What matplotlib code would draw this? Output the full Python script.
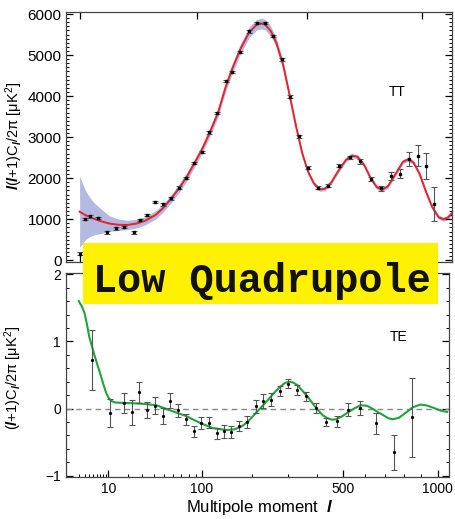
import numpy as np
import matplotlib.pyplot as plt
from matplotlib.patches import Rectangle
from matplotlib.ticker import MultipleLocator, FixedLocator, NullFormatter

plt.rcParams['font.family'] = ['Liberation Sans', 'DejaVu Sans']
plt.rcParams['mathtext.fontset'] = 'custom'
plt.rcParams['mathtext.rm'] = 'Liberation Sans'
plt.rcParams['mathtext.it'] = 'Liberation Sans:italic:bold'
plt.rcParams['mathtext.bf'] = 'Liberation Sans:bold'

# TT model curve
tt_l = [2, 3, 4, 5, 7, 10, 14, 19, 25, 31, 40, 47, 55, 65, 75, 85, 97, 110, 125, 140,
        153, 170, 190, 208, 220, 230, 245, 260, 280, 300, 320, 340, 360, 380, 400, 420,
        445, 475, 505, 530, 555, 585, 615, 645, 670, 700, 740, 780, 810, 840, 875, 910,
        950, 990, 1020, 1050, 1085]
tt_model = [1183, 1100, 1050, 1010, 950, 895, 865, 860, 895, 960, 1100, 1260, 1470, 1740,
            2020, 2330, 2680, 3100, 3600, 4250, 4680, 5150, 5560, 5740, 5770, 5740, 5580,
            5300, 4750, 4000, 3250, 2600, 2150, 1870, 1730, 1740, 1900, 2200, 2450, 2550,
            2520, 2320, 2000, 1780, 1720, 1800, 2100, 2400, 2460, 2380, 2100, 1700, 1300,
            1050, 1000, 1040, 1180]
# half width of the cosmic variance band, same l grid as the curve
band_hw = [870, 600, 470, 390, 300, 190, 140, 115, 105, 100, 100, 100, 100, 100,
           100, 100, 100, 100, 110, 110, 120, 120, 130, 130, 130, 130, 120,
           110, 100, 80, 50, 50, 50, 50, 50, 50, 50, 50, 50, 50,
           50, 50, 50, 50, 50, 50, 50, 50, 50, 50, 50, 50, 50,
           50, 50, 50, 50]

# TT data points
tt_pts_l = [2, 3, 4, 6, 9, 13, 17, 23, 27, 33, 40, 47, 56, 65, 75, 86, 97, 109, 124, 140,
            153, 170, 189, 208, 229, 252, 276, 301, 328, 358, 394, 431, 475, 522, 568, 617,
            667, 717, 766, 813, 864, 912, 962]
tt_pts = [160, 1004, 1070, 1030, 680, 777, 805, 680, 978, 1100, 1420, 1360, 1510, 1768,
          2000, 2367, 2636, 3116, 3592, 4367, 4587, 5077, 5576, 5780, 5780, 5470, 4897,
          3985, 3020, 2260, 1770, 1819, 2302, 2505, 2407, 1976, 1756, 2057, 2106, 2466,
          2547, 2302, 1372]
tt_err = [30, 30, 30, 30, 30, 30, 30, 30, 30, 30, 30, 30, 30, 30, 30, 30, 30, 30, 30, 30,
          30, 30, 30, 30, 30, 30, 30, 30, 30, 40, 40, 40, 40, 45, 50, 55, 60, 100, 110,
          180, 260, 320, 420]

# TE model curve
te_l = [2, 2.5, 3, 3.5, 4, 4.7, 5.4, 6.2, 7, 8, 9.2, 10.3, 11.5, 13, 17, 28, 42, 56, 76,
        96, 118, 143, 160, 175, 190, 214, 232, 250, 265, 278, 290, 303, 315, 330, 346,
        364, 382, 400, 420, 437, 454, 471, 495, 519, 549, 579, 610, 642, 666, 690, 712,
        735, 770, 808, 850, 895, 935, 976, 1020, 1062]
te_model = [1.6, 1.52, 1.42, 1.25, 1.07, 0.92, 0.78, 0.65, 0.53, 0.38, 0.23, 0.15, 0.11,
            0.09, 0.085, 0.075, 0.05, -0.025, -0.11, -0.21, -0.29, -0.32, -0.31, -0.27,
            -0.2, -0.04, 0.07, 0.18, 0.27, 0.33, 0.38, 0.40, 0.39, 0.35, 0.27, 0.18, 0.08,
            -0.015, -0.1, -0.14, -0.165, -0.16, -0.12, -0.065, 0.0, 0.05, 0.04, -0.015,
            -0.06, -0.1, -0.14, -0.16, -0.14, -0.065, 0.02, 0.06, 0.045, 0.01, -0.03, -0.05]

# TE data points
te_pts_l = [4.65, 10.8, 17.4, 22.6, 27.6, 33.8, 40.4, 48.4, 56.7, 66.3, 76.3, 87, 98.5,
            111, 125, 140, 154, 170.7, 189.6, 210, 229.6, 251, 275, 300, 328, 358, 394,
            431, 475, 522, 578, 650, 743, 843]
te_pts = [0.72, -0.065, 0.085, -0.055, 0.24, -0.015, 0.045, -0.11, 0.12, -0.025, -0.16,
          -0.34, -0.22, -0.21, -0.37, -0.34, -0.35, -0.26, -0.2, 0.035, 0.11, 0.135, 0.26,
          0.37, 0.28, 0.18, 0.01, -0.2, -0.19, -0.015, 0.01, -0.22, -0.65, -0.13]
te_err = [0.45, 0.21, 0.15, 0.19, 0.15, 0.12, 0.12, 0.12, 0.11, 0.094, 0.08, 0.084, 0.087,
          0.08, 0.087, 0.1, 0.087, 0.08, 0.087, 0.094, 0.1, 0.09, 0.074, 0.067, 0.074,
          0.074, 0.074, 0.062, 0.08, 0.1, 0.106, 0.16, 0.26, 0.59]


def fwd(x):
    x = np.asarray(x, dtype=float)
    return np.sign(x) * np.abs(x) ** 0.4


def inv(y):
    y = np.asarray(y, dtype=float)
    return np.sign(y) * np.abs(y) ** 2.5


fig = plt.figure(figsize=(4.55, 5.19), dpi=100)
ax1 = fig.add_axes([0.146, 0.4958, 0.8466, 0.4811])
ax2 = fig.add_axes([0.1444, 0.0815, 0.8424, 0.3919])

for ax in (ax1, ax2):
    ax.set_xscale('function', functions=(fwd, inv))
    ax.tick_params(which='both', direction='in', right=True, labelsize=10)
    ax.tick_params(which='major', length=5, width=0.9)
    ax.tick_params(which='minor', length=2.5, width=0.7)
    for s in ax.spines.values():
        s.set_color('#444444')
        s.set_linewidth(0.9)

# top panel: TT
model = np.array(tt_model)
hw = np.array(band_hw)
ax1.fill_between(tt_l, model - hw, model + hw, color='#b4b9e2', lw=0)
ax1.plot(tt_l, tt_model, color='#e8212b', lw=1.4)
ax1.errorbar(tt_pts_l, tt_pts, yerr=tt_err, fmt='s', ms=1.6, color='black',
             ecolor='#555555', elinewidth=0.8, capsize=2, capthick=0.8)
ax1.set_xlim(0.55, 1075)
ax1.set_ylim(-35, 6050)
ax1.yaxis.set_major_locator(MultipleLocator(1000))
ax1.yaxis.set_minor_locator(MultipleLocator(100))
ax1.xaxis.set_major_locator(FixedLocator([2, 90, 357, 890]))
ax1.xaxis.set_minor_locator(FixedLocator([]))
ax1.tick_params(axis='x', top=True, labelbottom=False)
ax1.tick_params(axis='y', labelsize=11)
ax1.set_ylabel(r'$l$($l$+1)C$_{l}$/2π [μK$^2$]', fontsize=10.5)
ax1.yaxis.set_label_coords(-0.108, 0.504)
ax1.text(0.86, 0.681, 'TT', transform=ax1.transAxes, fontsize=10, ha='center', va='center')

# bottom panel: TE
ax2.axhline(0, color='#888888', lw=1, ls=(0, (4, 3)))
ax2.plot(te_l, te_model, color='#1fa33c', lw=1.5)
ax2.errorbar(te_pts_l, te_pts, yerr=te_err, fmt='o', ms=1.3, color='black',
             ecolor='#555555', elinewidth=0.8, capsize=2, capthick=0.8)
ax2.set_xlim(0.55, 1075)
ax2.set_ylim(-1.015, 2.015)
ax2.yaxis.set_minor_locator(MultipleLocator(0.2))
ax2.xaxis.set_major_locator(FixedLocator([10, 100, 500, 1000]))
ax2.xaxis.set_major_formatter(plt.FixedFormatter(['10', '100', '500', '1000']))
ax2.xaxis.set_minor_locator(FixedLocator([2, 3, 4, 5, 6, 7, 8, 9, 20, 30, 40, 50, 60, 70,
                                          80, 90, 200, 300, 400, 600, 700, 800, 900]))
ax2.xaxis.set_minor_formatter(NullFormatter())
ax2.set_yticks([-1, 0, 1, 2])
ax2.set_yticklabels(['\u22121', '0', '1', '2'])
ax2.set_ylabel(r'($l$+1)C$_{l}$/2π [μK$^2$]', fontsize=10.5)
ax2.yaxis.set_label_coords(-0.109, 0.485)
ax2.set_xlabel(r'Multipole moment  $l$', fontsize=12)
ax2.xaxis.set_label_coords(0.507, -0.105)
ax2.text(0.868, 0.688, 'TE', transform=ax2.transAxes, fontsize=10, ha='center', va='center')

# yellow label box
fig.patches.append(Rectangle((0.1824, 0.4143), 0.7802, 0.117, transform=fig.transFigure,
                             facecolor='#fff100', edgecolor='none', zorder=5))
fig.text(0.2044, 0.438, 'Low Quadrupole', fontsize=29, family='Liberation Mono',
         fontweight='bold', color='#111111', va='baseline', ha='left', zorder=6)

plt.savefig('out.png', dpi=100)
